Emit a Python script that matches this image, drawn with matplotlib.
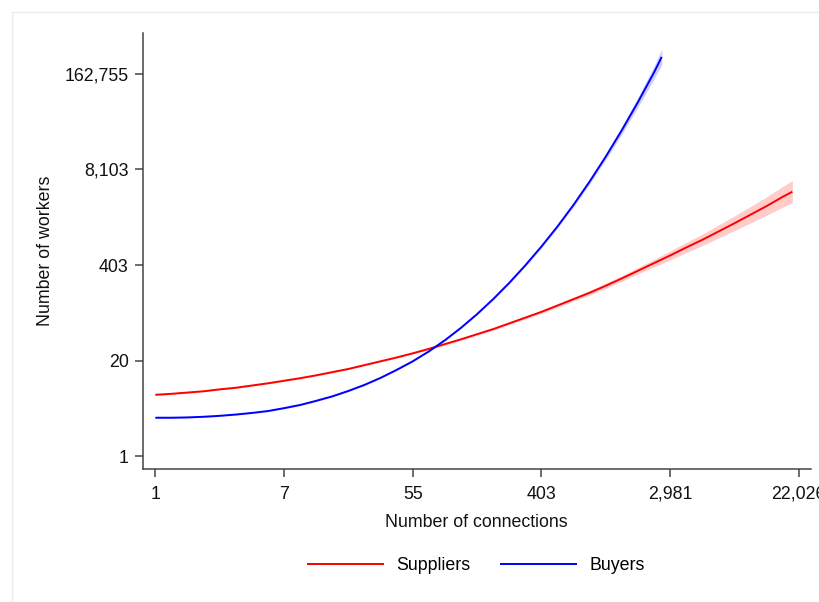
import numpy as np
import matplotlib
matplotlib.use("Agg")
import matplotlib.pyplot as plt
from matplotlib.patches import Rectangle

plt.rcParams["font.family"] = ["Liberation Sans", "DejaVu Sans"]

# Predicted firm size (log workers) against log number of connections
sup_ln_conn = [0.0, 0.25, 0.5, 0.75, 1.0, 1.25, 1.5, 1.75, 2.0, 2.25, 2.5, 2.75,
               3.0, 3.25, 3.5, 3.75, 4.0, 4.25, 4.5, 4.75, 5.0, 5.25, 5.5, 5.75,
               6.0, 6.25, 6.5, 6.75, 7.0, 7.25, 7.5, 7.75, 8.0, 8.25, 8.5, 8.75,
               9.0, 9.25, 9.5, 9.75, 9.9]
sup_ln_work = [1.93, 1.96, 2.00, 2.04, 2.10, 2.15, 2.22, 2.29, 2.37, 2.45, 2.54, 2.64,
               2.74, 2.86, 2.98, 3.10, 3.23, 3.37, 3.52, 3.67, 3.83, 3.99, 4.17, 4.35,
               4.53, 4.73, 4.93, 5.13, 5.35, 5.58, 5.82, 6.06, 6.30, 6.55, 6.79, 7.05,
               7.31, 7.58, 7.85, 8.14, 8.30]
sup_ci_half = [0.02, 0.02, 0.02, 0.02, 0.02, 0.02, 0.02, 0.02, 0.02, 0.02, 0.02, 0.02,
               0.02, 0.02, 0.02, 0.02, 0.02, 0.03, 0.03, 0.03, 0.03, 0.04, 0.04, 0.045,
               0.05, 0.055, 0.06, 0.07, 0.08, 0.09, 0.10, 0.12, 0.14, 0.16, 0.18, 0.205,
               0.23, 0.26, 0.29, 0.325, 0.35]

buy_ln_conn = [0.0, 0.25, 0.5, 0.75, 1.0, 1.25, 1.5, 1.75, 2.0, 2.25, 2.5, 2.75,
               3.0, 3.25, 3.5, 3.75, 4.0, 4.25, 4.5, 4.75, 5.0, 5.25, 5.5, 5.75,
               6.0, 6.25, 6.5, 6.75, 7.0, 7.25, 7.5, 7.75, 7.87]
buy_ln_work = [1.21, 1.21, 1.22, 1.24, 1.27, 1.31, 1.36, 1.42, 1.51, 1.61, 1.74, 1.88,
               2.05, 2.24, 2.46, 2.71, 2.98, 3.29, 3.64, 4.03, 4.46, 4.93, 5.44, 5.99,
               6.58, 7.21, 7.89, 8.62, 9.40, 10.23, 11.11, 12.04, 12.53]
buy_ci_half = [0.02, 0.02, 0.02, 0.02, 0.02, 0.02, 0.02, 0.02, 0.02, 0.02, 0.02, 0.02,
               0.02, 0.02, 0.02, 0.02, 0.02, 0.02, 0.02, 0.02, 0.02, 0.02, 0.03, 0.035,
               0.04, 0.05, 0.06, 0.075, 0.09, 0.12, 0.15, 0.20, 0.24]

x_ticks = [0, 2, 4, 6, 8, 10]
y_ticks = [0, 3, 6, 9, 12]

fig = plt.figure(figsize=(8.2, 6.02), dpi=100)
fig.patch.set_facecolor("white")

# faint outer frame of the graph region
fig.add_artist(Rectangle((12 / 820, -0.5), 2.0, 0.5 + (1 - 12.3 / 602),
                         transform=fig.transFigure, fill=False,
                         edgecolor="#ececec", linewidth=1.0))

ax = fig.add_axes([142.7 / 820, 1 - 469.3 / 602, (810.7 - 142.7) / 820, (469.3 - 33.3) / 602])

series = [
    (sup_ln_conn, sup_ln_work, sup_ci_half, "#ff0000", "Suppliers"),
    (buy_ln_conn, buy_ln_work, buy_ci_half, "#0000ff", "Buyers"),
]
for xs, ys, hw, col, name in series:
    xs = np.asarray(xs)
    ys = np.asarray(ys)
    hw = np.asarray(hw)
    ax.fill_between(xs, ys - hw, ys + hw, color=col, alpha=0.2, linewidth=0)
    ax.plot(xs, ys, color=col, lw=1.4, label=name, solid_capstyle="butt",
            solid_joinstyle="round")

ax.set_xlim(-0.196, 10.185)
ax.set_ylim(-0.408, 13.27)

ax.set_xticks(x_ticks)
ax.set_xticklabels([f"{np.exp(v):,.0f}" for v in x_ticks])
ax.set_yticks(y_ticks)
ax.set_yticklabels([f"{np.exp(v):,.0f}" for v in y_ticks])

for side in ("top", "right"):
    ax.spines[side].set_visible(False)
for side in ("left", "bottom"):
    ax.spines[side].set_color("#444444")
    ax.spines[side].set_linewidth(1.1)

ax.tick_params(axis="both", direction="out", length=5.5, width=1.1,
               color="#444444", labelsize=12.8, labelcolor="#111111")
ax.tick_params(axis="x", pad=6.5)
ax.tick_params(axis="y", pad=4.5)

ax.set_xlabel("Number of connections", fontsize=12.8, color="#111111", va="center")
ax.xaxis.set_label_coords(0.5, -0.121)
ax.set_ylabel("Number of workers", fontsize=12.8, color="#111111", va="center")
ax.yaxis.set_label_coords(-0.146, 0.5)

handles, labels = ax.get_legend_handles_labels()
fig.legend(handles, labels, loc="center", bbox_to_anchor=(476 / 820, 1 - 565.5 / 602),
           ncol=2, frameon=False, fontsize=12.8, handlelength=4.3,
           handletextpad=0.7, columnspacing=1.7)

fig.savefig("out.png", dpi=100, facecolor="white")
